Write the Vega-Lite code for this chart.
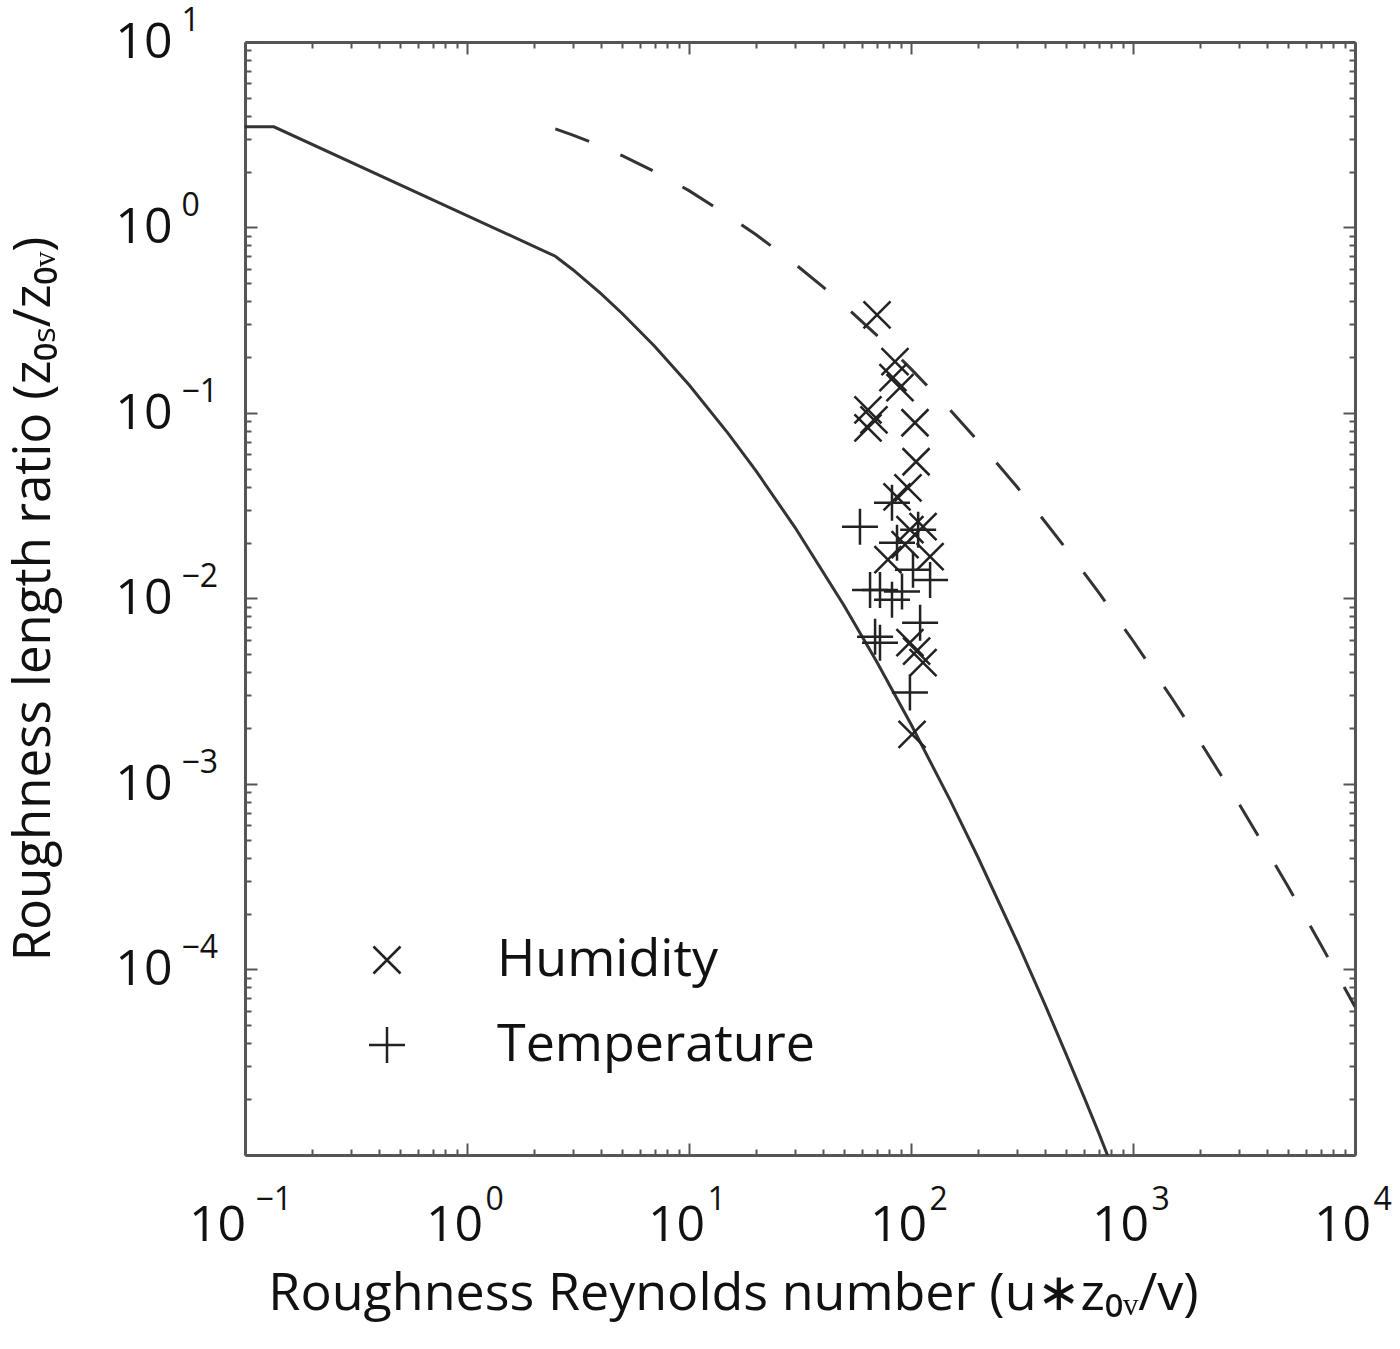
{
  "$schema": "https://vega.github.io/schema/vega-lite/v6.json",
  "width": 1110,
  "height": 1113,
  "autosize": "none",
  "padding": {"left": 245, "top": 42, "right": 45, "bottom": 194},
  "background": "white",
  "config": {
    "view": {"stroke": null},
    "font": "Open Sans",
    "axis": {
      "grid": false,
      "domainColor": "#555",
      "domainWidth": 3,
      "tickColor": "#555",
      "tickWidth": 2,
      "labelFont": "Open Sans",
      "labelColor": "#111",
      "titleFont": "Open Sans",
      "titleColor": "#111",
      "titleFontWeight": "normal",
      "labelOverlap": false,
      "labelFlush": false,
      "labelBound": false
    }
  },
  "resolve": {"axis": {"x": "independent", "y": "independent"}},
  "layer": [
    {
      "data": {
        "values": [
          {"R": 0.1, "ratio": 3.49},
          {"R": 0.135, "ratio": 3.49},
          {"R": 2.5, "ratio": 0.70},
          {"R": 3, "ratio": 0.592},
          {"R": 4, "ratio": 0.441},
          {"R": 5, "ratio": 0.344},
          {"R": 7, "ratio": 0.229},
          {"R": 10, "ratio": 0.142},
          {"R": 15, "ratio": 0.0777},
          {"R": 20, "ratio": 0.0489},
          {"R": 30, "ratio": 0.0242},
          {"R": 50, "ratio": 0.00915},
          {"R": 70, "ratio": 0.00458},
          {"R": 100, "ratio": 0.0021},
          {"R": 150, "ratio": 0.000818},
          {"R": 200, "ratio": 0.000404},
          {"R": 300, "ratio": 0.000142},
          {"R": 400, "ratio": 0.0000653},
          {"R": 500, "ratio": 0.0000349},
          {"R": 600, "ratio": 0.0000207},
          {"R": 700, "ratio": 0.0000132},
          {"R": 800, "ratio": 0.0000088}
        ]
      },
      "mark": {"type": "line", "color": "#333", "strokeWidth": 3, "clip": true},
      "encoding": {
        "x": {
          "field": "R",
          "type": "quantitative",
          "scale": {"type": "log", "domain": [0.1, 10000]},
          "axis": {
            "orient": "bottom",
            "values": [0.1,0.2,0.3,0.4,0.5,0.6,0.7,0.8,0.9,1,2,3,4,5,6,7,8,9,10,20,30,40,50,60,70,80,90,100,200,300,400,500,600,700,800,900,1000,2000,3000,4000,5000,6000,7000,8000,9000,10000],
            "labelExpr": "abs(log(datum.value)/LN10 - round(log(datum.value)/LN10)) < 0.001 ? '10' : ''",
            "tickSize": {"condition": {"test": "abs(log(datum.value)/LN10 - round(log(datum.value)/LN10)) < 0.001", "value": -12}, "value": -6},
            "labelFontSize": 50,
            "labelAlign": "center",
            "labelBaseline": "top",
            "labelPadding": 57,
            "labelOffset": {"condition": {"test": "datum.value < 0.5", "value": -28}, "value": -13},
            "title": "Roughness Reynolds number (u∗z₀ᵥ/v)",
            "titleFontSize": 52,
            "titlePadding": 12,
            "titleX": 488
          }
        },
        "y": {
          "field": "ratio",
          "type": "quantitative",
          "scale": {"type": "log", "domain": [0.00001, 10]},
          "axis": {
            "orient": "left",
            "values": [0.00001,0.00002,0.00003,0.00004,0.00005,0.00006,0.00007,0.00008,0.00009,0.0001,0.0002,0.0003,0.0004,0.0005,0.0006,0.0007,0.0008,0.0009,0.001,0.002,0.003,0.004,0.005,0.006,0.007,0.008,0.009,0.01,0.02,0.03,0.04,0.05,0.06,0.07,0.08,0.09,0.1,0.2,0.3,0.4,0.5,0.6,0.7,0.8,0.9,1,2,3,4,5,6,7,8,9,10],
            "labelExpr": "abs(log(datum.value)/LN10 - round(log(datum.value)/LN10)) < 0.001 && datum.value > 0.00002 ? '10' : ''",
            "tickSize": {"condition": {"test": "abs(log(datum.value)/LN10 - round(log(datum.value)/LN10)) < 0.001", "value": -12}, "value": -6},
            "labelFontSize": 50,
            "labelAlign": "right",
            "labelBaseline": "middle",
            "labelPadding": 85,
            "title": "Roughness length ratio (z₀ₛ/z₀ᵥ)",
            "titleFontSize": 51,
            "titlePadding": 54
          }
        }
      }
    },
    {
      "data": {
        "values": [
          {"R": 2.5, "ratio": 3.40},
          {"R": 3, "ratio": 3.15},
          {"R": 4, "ratio": 2.75},
          {"R": 5, "ratio": 2.44},
          {"R": 7, "ratio": 2.00},
          {"R": 10, "ratio": 1.58},
          {"R": 15, "ratio": 1.16},
          {"R": 20, "ratio": 0.917},
          {"R": 30, "ratio": 0.636},
          {"R": 40, "ratio": 0.480},
          {"R": 50, "ratio": 0.381},
          {"R": 70, "ratio": 0.263},
          {"R": 100, "ratio": 0.173},
          {"R": 150, "ratio": 0.104},
          {"R": 200, "ratio": 0.0708},
          {"R": 300, "ratio": 0.040},
          {"R": 400, "ratio": 0.0261},
          {"R": 500, "ratio": 0.0185},
          {"R": 700, "ratio": 0.0108},
          {"R": 1000, "ratio": 0.00592},
          {"R": 1500, "ratio": 0.00289},
          {"R": 2000, "ratio": 0.0017},
          {"R": 3000, "ratio": 0.000783},
          {"R": 4000, "ratio": 0.000441},
          {"R": 5000, "ratio": 0.000279},
          {"R": 7000, "ratio": 0.000137},
          {"R": 10000, "ratio": 0.000063}
        ]
      },
      "mark": {"type": "line", "color": "#333", "strokeWidth": 3, "strokeDash": [36, 34], "clip": true},
      "encoding": {
        "x": {
          "field": "R",
          "type": "quantitative",
          "scale": {"type": "log", "domain": [0.1, 10000]},
          "axis": {
            "orient": "top",
            "values": [0.1,0.2,0.3,0.4,0.5,0.6,0.7,0.8,0.9,1,2,3,4,5,6,7,8,9,10,20,30,40,50,60,70,80,90,100,200,300,400,500,600,700,800,900,1000,2000,3000,4000,5000,6000,7000,8000,9000,10000],
            "labels": false,
            "tickSize": {"condition": {"test": "abs(log(datum.value)/LN10 - round(log(datum.value)/LN10)) < 0.001", "value": -12}, "value": -6},
            "title": null
          }
        },
        "y": {
          "field": "ratio",
          "type": "quantitative",
          "scale": {"type": "log", "domain": [0.00001, 10]},
          "axis": {
            "orient": "right",
            "values": [0.00001,0.00002,0.00003,0.00004,0.00005,0.00006,0.00007,0.00008,0.00009,0.0001,0.0002,0.0003,0.0004,0.0005,0.0006,0.0007,0.0008,0.0009,0.001,0.002,0.003,0.004,0.005,0.006,0.007,0.008,0.009,0.01,0.02,0.03,0.04,0.05,0.06,0.07,0.08,0.09,0.1,0.2,0.3,0.4,0.5,0.6,0.7,0.8,0.9,1,2,3,4,5,6,7,8,9,10],
            "labels": false,
            "tickSize": {"condition": {"test": "abs(log(datum.value)/LN10 - round(log(datum.value)/LN10)) < 0.001", "value": -12}, "value": -6},
            "title": null
          }
        }
      }
    },
    {
      "data": {
        "values": [
          {"series": "Humidity", "R": 70.3, "ratio": 0.338},
          {"series": "Humidity", "R": 84.7, "ratio": 0.189},
          {"series": "Humidity", "R": 82.9, "ratio": 0.155},
          {"series": "Humidity", "R": 89.2, "ratio": 0.137},
          {"series": "Humidity", "R": 64.0, "ratio": 0.104},
          {"series": "Humidity", "R": 68.1, "ratio": 0.0919},
          {"series": "Humidity", "R": 64.0, "ratio": 0.0832},
          {"series": "Humidity", "R": 104.2, "ratio": 0.0886},
          {"series": "Humidity", "R": 105.4, "ratio": 0.0546},
          {"series": "Humidity", "R": 96.9, "ratio": 0.0395},
          {"series": "Humidity", "R": 86.5, "ratio": 0.0353},
          {"series": "Humidity", "R": 98.9, "ratio": 0.0235},
          {"series": "Humidity", "R": 113.3, "ratio": 0.0244},
          {"series": "Humidity", "R": 94.0, "ratio": 0.0195},
          {"series": "Humidity", "R": 121.9, "ratio": 0.0168},
          {"series": "Humidity", "R": 78.7, "ratio": 0.0162},
          {"series": "Humidity", "R": 98.9, "ratio": 0.00578},
          {"series": "Humidity", "R": 106.0, "ratio": 0.0052},
          {"series": "Humidity", "R": 113.3, "ratio": 0.00451},
          {"series": "Humidity", "R": 101.1, "ratio": 0.00185},
          {"series": "Temperature", "R": 58.9, "ratio": 0.0244},
          {"series": "Temperature", "R": 82.1, "ratio": 0.0328},
          {"series": "Temperature", "R": 86.5, "ratio": 0.020},
          {"series": "Temperature", "R": 107.7, "ratio": 0.0235},
          {"series": "Temperature", "R": 102.1, "ratio": 0.0143},
          {"series": "Temperature", "R": 121.9, "ratio": 0.0126},
          {"series": "Temperature", "R": 65.4, "ratio": 0.0111},
          {"series": "Temperature", "R": 72.5, "ratio": 0.0111},
          {"series": "Temperature", "R": 82.1, "ratio": 0.00986},
          {"series": "Temperature", "R": 91.1, "ratio": 0.0109},
          {"series": "Temperature", "R": 109.9, "ratio": 0.00741},
          {"series": "Temperature", "R": 68.9, "ratio": 0.00622},
          {"series": "Temperature", "R": 72.5, "ratio": 0.00578},
          {"series": "Temperature", "R": 98.9, "ratio": 0.00311}
        ]
      },
      "mark": {"type": "point", "filled": false, "size": 1296, "strokeWidth": 2.5, "color": "#222", "opacity": 1},
      "encoding": {
        "x": {
          "field": "R",
          "type": "quantitative",
          "scale": {"type": "log", "domain": [0.1, 10000]},
          "axis": {
            "orient": "bottom",
            "values": [0.1, 1, 10, 100, 1000, 10000],
            "labelExpr": "format(round(log(datum.value)/LN10), 'd')",
            "ticks": false,
            "domain": false,
            "labelFontSize": 32,
            "labelAlign": "left",
            "labelBaseline": "top",
            "labelPadding": 29,
            "labelOffset": {"condition": {"test": "datum.value < 0.5", "value": 10}, "value": 18},
            "title": null
          }
        },
        "y": {
          "field": "ratio",
          "type": "quantitative",
          "scale": {"type": "log", "domain": [0.00001, 10]},
          "axis": {
            "orient": "left",
            "values": [0.0001, 0.001, 0.01, 0.1, 1, 10],
            "labelExpr": "format(round(log(datum.value)/LN10), 'd')",
            "ticks": false,
            "domain": false,
            "labelFontSize": 32,
            "labelAlign": "left",
            "labelBaseline": "middle",
            "labelPadding": 64,
            "labelOffset": -22,
            "title": null
          }
        },
        "shape": {
          "field": "series",
          "type": "nominal",
          "scale": {
            "domain": ["Humidity", "Temperature"],
            "range": ["M-0.75,-0.75L0.75,0.75M-0.75,0.75L0.75,-0.75", "M-1,0L1,0M0,-1L0,1"]
          },
          "legend": {
            "orient": "none",
            "legendX": 116,
            "legendY": 892,
            "title": null,
            "padding": 0,
            "symbolSize": 1296,
            "symbolStrokeWidth": 2.5,
            "symbolStrokeColor": "#222",
            "labelFont": "Open Sans",
            "labelFontSize": 52,
            "labelColor": "#111",
            "labelLimit": 0,
            "labelOffset": 84,
            "rowPadding": 33
          }
        }
      }
    }
  ]
}
